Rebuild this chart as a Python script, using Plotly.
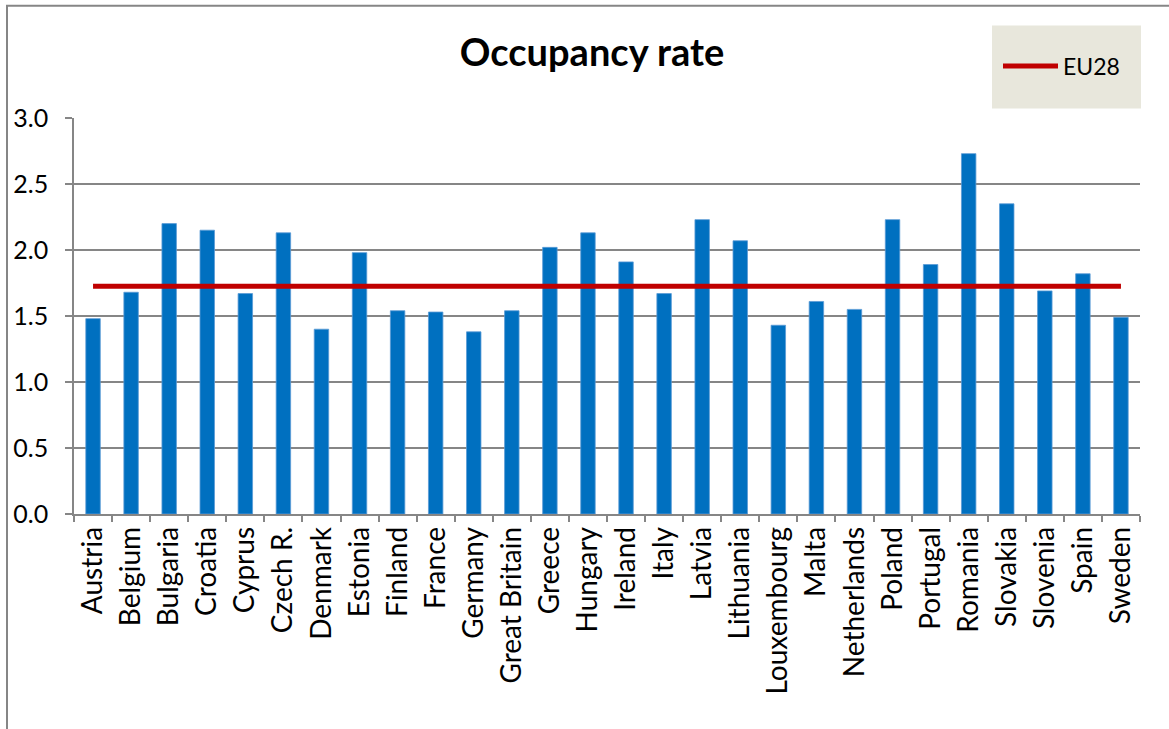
import plotly.graph_objects as go

# Données
pays = ['Austria', 'Belgium', 'Bulgaria', 'Croatia', 'Cyprus', 'Czech R.', 'Denmark',
        'Estonia', 'Finland', 'France', 'Germany', 'Great Britain', 'Greece', 'Hungary',
        'Ireland', 'Italy', 'Latvia', 'Lithuania', 'Louxembourg', 'Malta', 'Netherlands',
        'Poland', 'Portugal', 'Romania', 'Slovakia', 'Slovenia', 'Spain', 'Sweden']
taux = [1.48, 1.68, 2.20, 2.15, 1.67, 2.13, 1.40,
        1.98, 1.54, 1.53, 1.38, 1.54, 2.02, 2.13,
        1.91, 1.67, 2.23, 2.07, 1.43, 1.61, 1.55,
        2.23, 1.89, 2.73, 2.35, 1.69, 1.82, 1.49]
eu28 = 1.725

POLICE = "Lato"
GRIS = "#868686"

fig = go.Figure()
fig.add_trace(go.Bar(x=pays, y=taux, marker_color="#0070C0",
                     marker_line=dict(color="#5B9BD5", width=0.8),
                     width=0.38, showlegend=False))
fig.add_trace(go.Scatter(x=pays, y=[eu28] * len(pays), mode="lines", name="EU28",
                         line=dict(color="#C00000", width=5)))

# zone de tracé en pixels
W, H = 1169, 729
L, R, T, B = 74, 1140, 117.5, 514
px = lambda v: (v - L) / (R - L)
py = lambda v: (B - v) / (B - T)
fig.add_shape(type="rect", xref="paper", yref="paper",
              x0=px(7), x1=px(1180), y0=py(760), y1=py(5),
              line=dict(color=GRIS, width=2), layer="below")
fig.add_shape(type="rect", xref="paper", yref="paper",
              x0=px(992), x1=px(1141), y0=py(108), y1=py(25),
              fillcolor="#E8E7DC", line=dict(width=0), layer="below")

fig.update_layout(
    width=W, height=H,
    margin=dict(l=L, r=W - R, t=T, b=H - B, autoexpand=False),
    paper_bgcolor="white", plot_bgcolor="white",
    font=dict(family=POLICE, size=24, color="black"),
    title=dict(text="<b>Occupancy rate</b>", font=dict(size=38, family=POLICE),
               x=592 / W, xref="container", xanchor="center",
               y=1 - 53 / H, yref="container", yanchor="middle"),
    legend=dict(x=998 / W, y=1 - 66 / H, xref="container", yref="container",
                xanchor="left", yanchor="middle", bgcolor="rgba(0,0,0,0)",
                font=dict(size=23, family=POLICE), itemwidth=55),
)
fig.update_yaxes(range=[0, 3], dtick=0.5, tickformat=".1f",
                 tickfont=dict(size=25),
                 showgrid=True, gridcolor=GRIS, gridwidth=1.5,
                 showline=True, linecolor=GRIS, linewidth=1.5,
                 ticks="outside", ticklen=7, tickcolor=GRIS, tickwidth=1.5,
                 ticklabelstandoff=12, zeroline=False)
fig.update_xaxes(tickangle=-90, tickfont=dict(size=28),
                 showline=True, linecolor=GRIS, linewidth=1.5,
                 ticks="outside", ticklen=6, tickcolor=GRIS, tickwidth=1.5,
                 tickson="boundaries", showgrid=False, range=[-0.5, 27.5])

# la page a une marge de 8px par défaut : on la retire
fig.write_html("out.html", config={"displayModeBar": False},
               post_script="document.body.style.margin='0';")
